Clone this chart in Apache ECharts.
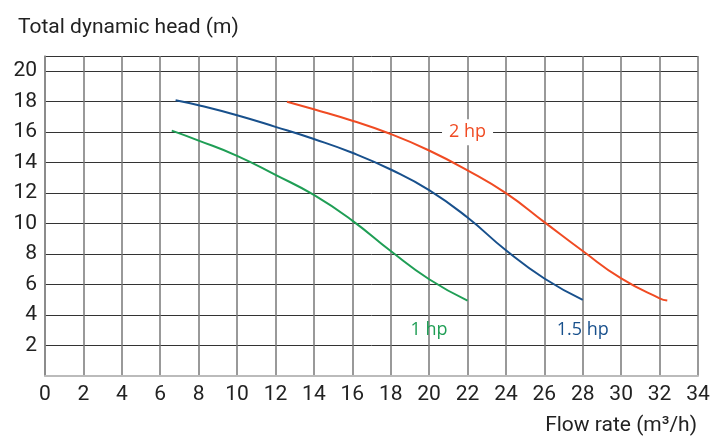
<!DOCTYPE html>
<html>
<head>
<meta charset="utf-8">
<script src="https://cdn.jsdelivr.net/npm/echarts@6/dist/echarts.min.js"></script>
<style>
  html, body { margin: 0; padding: 0; background: #fff; }
  #chart { width: 713px; height: 437px; }
</style>
</head>
<body>
<div id="chart"></div>
<script>
// pump curves
var flow1hp = [6.6, 8, 10, 12, 14, 16, 18, 20, 22]
var head1hp = [16.1, 15.45, 14.45, 13.2, 11.88, 10.2, 8.2, 6.35, 4.95]

var flow15hp = [6.8, 8, 10, 12, 14, 16, 18, 20, 22, 24, 26, 28]
var head15hp = [18.1, 17.77, 17.11, 16.35, 15.55, 14.65, 13.55, 12.2, 10.4, 8.25, 6.4, 5.0]

var flow2hp = [12.6, 14, 16, 18, 20, 22, 24, 26, 28, 30, 32, 32.4]
var head2hp = [18.0, 17.5, 16.75, 15.88, 14.8, 13.5, 12.0, 10.1, 8.2, 6.4, 5.1, 4.95]

var seriesNames = ['1 hp', '1.5 hp', '2 hp']

function pairs(xs, ys) {
  return xs.map(function (x, i) { return [x, ys[i]] })
}

var font = 'Roboto, "Noto Sans", sans-serif'
var labelFont = '"Open Sans", "Noto Sans", sans-serif'

function curve(name, data, color, labelCoord) {
  return {
    name: name,
    type: 'line',
    data: data,
    smooth: 0.5,
    showSymbol: false,
    symbol: 'none',
    lineStyle: { color: color, width: 2 },
    markPoint: {
      symbol: 'rect',
      symbolSize: 1,
      itemStyle: { color: 'rgba(0,0,0,0)' },
      data: [{ coord: labelCoord, value: name }],
      label: {
        show: true,
        position: 'inside',
        formatter: name,
        color: color,
        fontFamily: labelFont,
        fontSize: 18
      }
    }
  }
}

var myChart = echarts.init(document.getElementById('chart'))

var s1 = curve(seriesNames[0], pairs(flow1hp, head1hp), '#1f9e55', [20, 3])
var s2 = curve(seriesNames[1], pairs(flow15hp, head15hp), '#18508c', [28, 3])
var s3 = curve(seriesNames[2], pairs(flow2hp, head2hp), '#f04b23', [22, 16])
// the 2 hp label sits on a white patch over the grid
s3.markPoint.label.backgroundColor = '#fff'
s3.markPoint.label.padding = [4, 7, 4, 7]

myChart.setOption({
  animation: false,
  title: [{
    text: 'Total dynamic head (m)',
    left: 13,
    top: 12,
    textStyle: { fontFamily: font, fontSize: 21, fontWeight: 'normal', color: '#222' }
  }, {
    text: 'Flow rate (m³/h)',
    right: 11,
    top: 410,
    textStyle: { fontFamily: font, fontSize: 21, fontWeight: 'normal', color: '#222' }
  }],
  grid: {
    left: 45,
    right: 15,
    top: 56,
    bottom: 61
  },
  xAxis: {
    type: 'value',
    min: 0,
    max: 34,
    interval: 2,
    axisLine: { show: true, lineStyle: { color: '#bbb', width: 2 } },
    axisTick: { show: false },
    axisLabel: { fontFamily: font, fontSize: 21, color: '#222', margin: 8 },
    splitLine: { show: true, lineStyle: { color: '#777', width: 1.5 } }
  },
  yAxis: {
    type: 'value',
    min: 0,
    max: 21,
    interval: 2,
    axisLine: { show: true, lineStyle: { color: '#888', width: 1.5 } },
    axisTick: { show: false },
    axisLabel: {
      fontFamily: font,
      fontSize: 21,
      color: '#222',
      margin: 8,
      formatter: function (v) { return (v === 0 || v > 20) ? '' : v }
    },
    splitLine: { show: true, lineStyle: { color: '#333', width: 1 } }
  },
  series: [s1, s2, s3]
})
</script>
</body>
</html>
